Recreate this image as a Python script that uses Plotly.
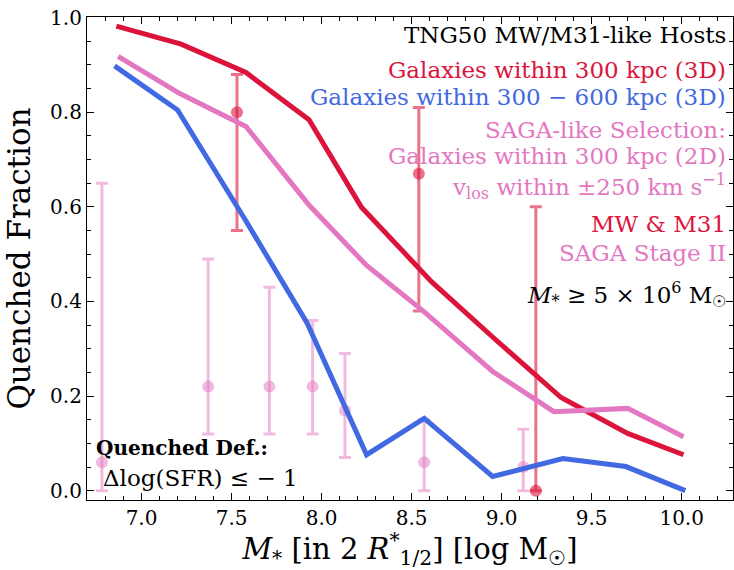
import plotly.graph_objects as go

# TNG50 curves
red_x = [6.86, 7.22, 7.58, 7.93, 8.22, 8.61, 8.97, 9.33, 9.70, 10.01]
red_y = [0.982, 0.944, 0.884, 0.784, 0.600, 0.442, 0.318, 0.197, 0.121, 0.076]

blue_x = [6.85, 7.20, 7.58, 7.92, 8.25, 8.57, 8.95, 9.34, 9.69, 10.02]
blue_y = [0.898, 0.805, 0.570, 0.354, 0.076, 0.153, 0.030, 0.068, 0.051, 0.0]

pink_x = [6.87, 7.21, 7.58, 7.93, 8.25, 8.57, 8.95, 9.29, 9.70, 10.01]
pink_y = [0.918, 0.840, 0.770, 0.604, 0.476, 0.378, 0.252, 0.167, 0.174, 0.114]

# SAGA Stage II points
saga_x = [6.78, 7.37, 7.71, 7.95, 8.13, 8.57, 9.12]
saga_y = [0.06, 0.22, 0.22, 0.22, 0.17, 0.06, 0.05]
saga_hi = [0.65, 0.49, 0.43, 0.36, 0.29, 0.15, 0.13]
saga_lo = [0.0, 0.12, 0.12, 0.12, 0.07, 0.0, 0.0]

# MW & M31 points
mw_x = [7.53, 8.54, 9.19]
mw_y = [0.80, 0.67, 0.0]
mw_hi = [0.88, 0.81, 0.60]
mw_lo = [0.55, 0.38, 0.0]

CRIMSON = "#DC143C"
BLUE = "#4169E1"
PINK = "#E377C2"
FONT = "DejaVu Serif"

fig = go.Figure()

fig.add_trace(go.Scatter(
    x=saga_x, y=saga_y, mode="markers",
    marker=dict(size=12, color="rgba(227,119,194,0.5)", line=dict(width=0)),
    error_y=dict(type="data", symmetric=False,
                 array=[h - v for h, v in zip(saga_hi, saga_y)],
                 arrayminus=[v - l for v, l in zip(saga_y, saga_lo)],
                 color="rgba(227,119,194,0.5)", thickness=3, width=6),
    showlegend=False))

fig.add_trace(go.Scatter(
    x=mw_x, y=mw_y, mode="markers",
    marker=dict(size=12, color="rgba(220,20,60,0.6)", line=dict(width=0)),
    error_y=dict(type="data", symmetric=False,
                 array=[h - v for h, v in zip(mw_hi, mw_y)],
                 arrayminus=[v - l for v, l in zip(mw_y, mw_lo)],
                 color="rgba(220,20,60,0.6)", thickness=3, width=6),
    showlegend=False))

for xs, ys, c in [(red_x, red_y, CRIMSON), (blue_x, blue_y, BLUE), (pink_x, pink_y, PINK)]:
    fig.add_trace(go.Scatter(x=xs, y=ys, mode="lines",
                             line=dict(color=c, width=5), showlegend=False))

axis_common = dict(
    showline=True, linecolor="black", linewidth=1.2, mirror="allticks",
    ticks="inside", ticklen=7, tickwidth=1.2, tickcolor="black",
    showgrid=False, zeroline=False,
    tickfont=dict(family=FONT, size=20, color="black"),
)

fig.update_xaxes(range=[6.697, 10.285], tickvals=[7.0, 7.5, 8.0, 8.5, 9.0, 9.5, 10.0],
                 tickformat=".1f",
                 minor=dict(ticks="inside", dtick=0.1, tick0=7.0, ticklen=4, tickcolor="black"),
                 title=dict(text="<i>M</i><sub>*</sub> [in 2 <i>R</i><sup>*</sup><sub>1/2</sub>] [log M<sub>☉</sub>]",
                            font=dict(family=FONT, size=29, color="black"), standoff=4),
                 **axis_common)
fig.update_yaxes(range=[-0.0197, 1.0014], tickvals=[0.0, 0.2, 0.4, 0.6, 0.8, 1.0],
                 tickformat=".1f",
                 minor=dict(ticks="inside", dtick=0.05, tick0=0.0, ticklen=4, tickcolor="black"),
                 title=dict(text="Quenched Fraction",
                            font=dict(family=FONT, size=31, color="black"), standoff=10),
                 **axis_common)

def py2paper(py):
    return (500 - py) / 483.0

XR = (728 - 87) / 646.0
labels = [
    ("TNG50 MW/M31-like Hosts", "black", 35),
    ("Galaxies within 300 kpc (3D)", CRIMSON, 70),
    ("Galaxies within 300 − 600 kpc (3D)", BLUE, 97),
    ("SAGA-like Selection:", PINK, 130),
    ("Galaxies within 300 kpc (2D)", PINK, 156),
    ("v<sub>los</sub> within ±250 km s<sup>−1</sup>", PINK, 186),
    ("MW &amp; M31", CRIMSON, 224),
    ("SAGA Stage II", PINK, 253),
    ("<i>M</i><sub>*</sub> ≥ 5 × 10<sup>6</sup> M<sub>☉</sub>", "black", 294),
]
for txt, col, py in labels:
    fig.add_annotation(text=txt, xref="paper", yref="paper", x=XR, y=py2paper(py),
                       xanchor="right", yanchor="middle", showarrow=False,
                       font=dict(family=FONT, size=23, color=col))

fig.add_annotation(text="<b>Quenched Def.:</b>", xref="paper", yref="paper",
                   x=(94 - 87) / 646.0, y=py2paper(448), xanchor="left", yanchor="middle",
                   showarrow=False, font=dict(family=FONT, size=20, color="black"))
fig.add_annotation(text="Δlog(SFR) ≤ − 1", xref="paper", yref="paper",
                   x=(101 - 87) / 646.0, y=py2paper(478), xanchor="left", yanchor="middle",
                   showarrow=False, font=dict(family=FONT, size=23, color="black"))

fig.update_layout(width=734, height=570, margin=dict(l=87, r=1, t=17, b=70),
                  paper_bgcolor="white", plot_bgcolor="white",
                  font=dict(family=FONT))

fig.write_html("out.html")
